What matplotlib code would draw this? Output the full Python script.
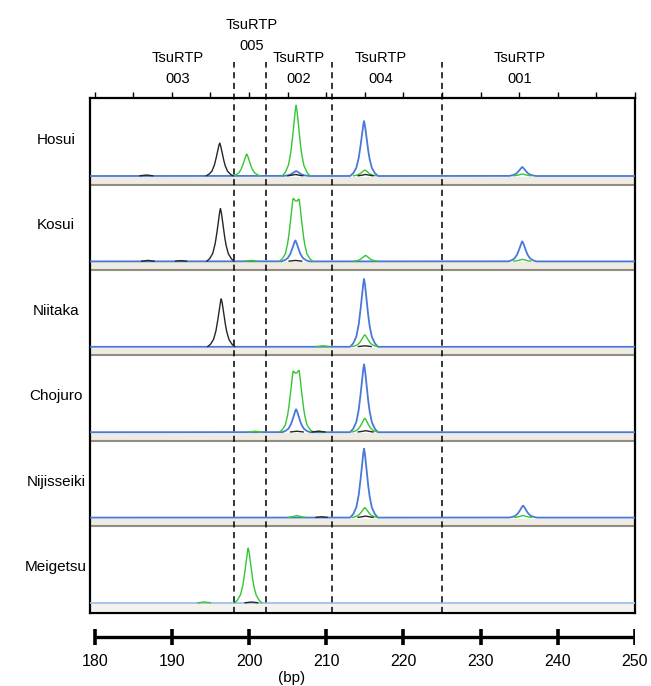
import numpy as np
import matplotlib.pyplot as plt
from matplotlib.transforms import blended_transform_factory

plt.rcParams['font.family'] = ['Liberation Sans', 'DejaVu Sans']

# cultivars, top to bottom
CULTIVARS = ["Hosui", "Kosui", "Niitaka", "Chojuro", "Nijisseiki", "Meigetsu"]

# peaks per cultivar: (size in bp, height in relative units)
BLUE_PEAKS = [
    [(206.1, 5), (214.9, 55), (235.4, 9)],
    [(206.0, 21), (235.4, 20)],
    [(214.9, 68)],
    [(206.1, 23), (214.9, 68)],
    [(214.9, 69), (235.5, 12)],
    [],
]
GREEN_PEAKS = [
    [(199.7, 22), (206.1, 71), (215.0, 6), (235.4, 2)],
    [(200.3, 1), (205.7, 50), (206.5, 49), (215.1, 6), (235.4, 2)],
    [(209.6, 1), (215.0, 12)],
    [(200.8, 1), (205.7, 48), (206.5, 49), (209.0, 1), (215.0, 14)],
    [(206.2, 2), (215.0, 10), (235.5, 2)],
    [(194.2, 1), (199.9, 55)],
]
BLACK_PEAKS = [
    [(186.7, 1), (196.2, 33), (206.0, 1.5), (215.1, 1.5)],
    [(186.9, 1), (191.2, 0.8), (196.3, 53), (206.0, 1)],
    [(196.4, 48), (215.0, 1)],
    [(206.2, 1), (209.0, 1), (215.1, 1.5)],
    [(209.4, 0.8), (215.1, 1.5)],
    [(200.3, 1)],
]

# peak shape
PROFILE_DX = [-1.8, -1.4, -1.0, -0.7, -0.5, -0.3, -0.12, 0, 0.12, 0.3, 0.5, 0.7, 1.0, 1.4, 1.8]
PROFILE_Y = [0, 0.05, 0.15, 0.32, 0.5, 0.72, 0.92, 1, 0.92, 0.72, 0.5, 0.32, 0.15, 0.05, 0]

# marker loci and their boundaries
LOCI = ["TsuRTP\n003", "TsuRTP\n005", "TsuRTP\n002", "TsuRTP\n004", "TsuRTP\n001"]
LOCUS_X = [190.8, 200.3, 206.4, 217.0, 235.0]
DIVIDERS = [198.1, 202.2, 210.8, 225.0]

TOP_TICKS = list(range(180, 255, 5))
SCALE_TICKS = list(range(180, 260, 10))

BLUE = '#4a78d8'
GREEN = '#34c634'
BLACK = '#262626'

W, H = 651, 686
XMIN, XMAX = 179.4, 250.0
BOX_H = 515
PANEL_H = 85.4
BASE_OFF = 78

fig = plt.figure(figsize=(W / 100, H / 100), dpi=100)
L, R = 90 / W, 635 / W
ax = fig.add_axes([L, 1 - 613 / H, R - L, BOX_H / H])
ax.set_xlim(XMIN, XMAX)
ax.set_ylim(0, BOX_H)

xs = np.linspace(XMIN, XMAX, 4000)


def trace(peaks):
    y = np.zeros_like(xs)
    for pos, h in peaks:
        y += h * np.interp(xs - pos, PROFILE_DX, PROFILE_Y, left=0, right=0)
    return y


for i, name in enumerate(CULTIVARS):
    base = BOX_H - BASE_OFF - i * PANEL_H
    last = i == len(CULTIVARS) - 1
    # separator band under the baseline
    band = '#f4f2ec' if last else '#eeebe2'
    ax.axhspan(base - 8, base - 1, color=band, lw=0, zorder=1)
    if not last:
        ax.axhline(base - 8.5, color='#928d83', lw=1.5, zorder=1)
    bcol = '#a3c0ea' if last else BLUE
    ax.plot(xs, base + trace(BLUE_PEAKS[i]), color=bcol, lw=1.3, zorder=3)
    for peaks, col, z in [(GREEN_PEAKS[i], GREEN, 4), (BLACK_PEAKS[i], BLACK, 5)]:
        y = trace(peaks)
        ax.plot(xs, np.where(y > 0.25, base + y, np.nan), color=col, lw=1.0, zorder=z)

ax.vlines(DIVIDERS, 0, BOX_H + 36, colors='black', linestyles=(0, (4, 3)),
          lw=1.1, clip_on=False, zorder=6)

ax.set_xticks(TOP_TICKS)
ax.set_yticks([])
ax.tick_params(axis='x', top=True, bottom=False, labelbottom=False,
               direction='out', length=4.5, width=1)
for s in ax.spines.values():
    s.set_linewidth(1.6)

# locus labels above the box
for k, (lab, x) in enumerate(zip(LOCI, LOCUS_X)):
    top, bot = lab.split("\n")
    y0 = 588 if k == 1 else 555
    ax.text(x, y0, top, ha='center', va='center', fontsize=10.5, clip_on=False)
    ax.text(x, y0 - 21, bot, ha='center', va='center', fontsize=10.5, clip_on=False)

# cultivar names
tr = blended_transform_factory(fig.transFigure, ax.transData)
for i, name in enumerate(CULTIVARS):
    yc = BOX_H - 42 - i * PANEL_H
    ax.text(56 / W, yc, name, transform=tr, ha='center', va='center', fontsize=11)

# size scale bar
ax2 = fig.add_axes([L, 1 - 650 / H, R - L, 26 / H])
ax2.set_xlim(XMIN, XMAX)
ax2.set_ylim(-1.625, 1.625)
ax2.axis('off')
ax2.plot([SCALE_TICKS[0], SCALE_TICKS[-1]], [0, 0], color='black', lw=2.4,
         solid_capstyle='butt')
ax2.vlines(SCALE_TICKS, -1, 1, colors='black', lw=2.6)
tr2 = blended_transform_factory(ax2.transData, fig.transFigure)
for t in SCALE_TICKS:
    ax2.text(t, 1 - 662 / H, str(t), transform=tr2, ha='center', va='center', fontsize=11.5)
ax2.text(205.5, 1 - 678 / H, "(bp)", transform=tr2, ha='center', va='center', fontsize=11)

fig.savefig("out.png", dpi=100)
